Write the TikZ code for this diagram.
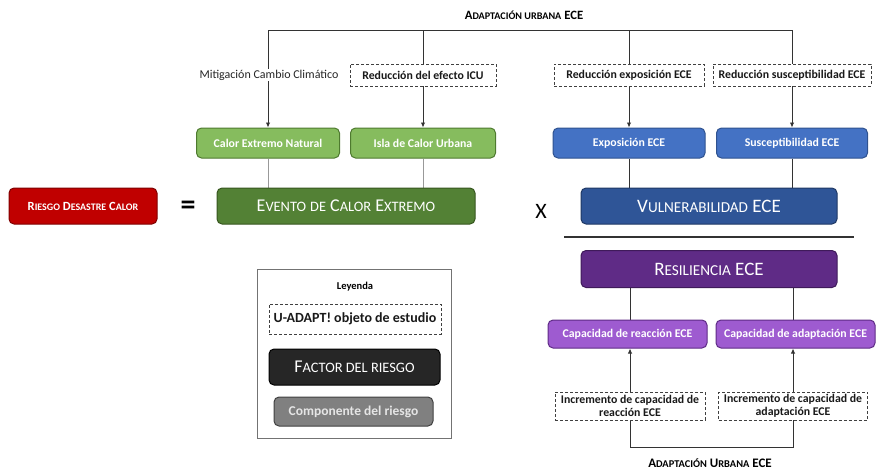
\documentclass[tikz,border=0pt]{standalone}
\usepackage{graphicx}
\usepackage{fontspec}
\setmainfont{Carlito}
\usetikzlibrary{arrows.meta,backgrounds}
\newcommand\sm[1]{\scalebox{0.8}{#1}}
\definecolor{cred}{HTML}{C00000}
\definecolor{credb}{HTML}{7F0000}
\definecolor{cdg}{HTML}{538135}
\definecolor{cdgb}{HTML}{37561F}
\definecolor{clg}{HTML}{86BC5E}
\definecolor{clgb}{HTML}{4E7A2F}
\definecolor{cbl}{HTML}{4472C4}
\definecolor{cblb}{HTML}{2F528F}
\definecolor{cdb}{HTML}{2F5597}
\definecolor{cdbb}{HTML}{1F3864}
\definecolor{cdp}{HTML}{5F2B86}
\definecolor{cdpb}{HTML}{3F1A5A}
\definecolor{clp}{HTML}{9E5BD0}
\definecolor{clpb}{HTML}{5F2B86}
\begin{document}
\begin{tikzpicture}[x=1pt,y=-1pt,
  lbl/.style={font=\fontsize{11.8}{13}\selectfont\bfseries},
  dbox/.style={draw=black!75, dash pattern=on 3pt off 2pt, line width=0.8pt, fill=white,
     minimum height=22pt, inner sep=1pt, lbl, text=black!90, align=center},
  rbox/.style={rounded corners=5pt, line width=1pt, inner sep=2pt, text=white, align=center},
  smallbox/.style={rbox, minimum height=30pt, lbl},
  bigbox/.style={rbox, minimum height=36pt, font=\fontsize{18}{20}\selectfont},
  cline/.style={draw=black!80, line width=0.9pt},
  gline/.style={draw=black!40, line width=0.8pt},
  arr/.style={-{Latex[length=5pt,width=4.5pt]}},
]
\useasboundingbox (0,0) rectangle (877,469);

% top label and coordinates
\node[font=\fontsize{12.7}{14}\selectfont\bfseries] (toplbl) at (524,15) {A\sm{DAPTACIÓN URBANA} ECE};
\coordinate (tl) at (268,30);
\coordinate (tr) at (792,30);

% top dashed boxes / text
\node[font=\fontsize{12}{14}\selectfont, fill=white, inner sep=1pt, text=black!85] (mit) at (269,75) {Mitigación Cambio Climático};
\node[dbox, minimum width=146pt] (r1) at (423,75) {Reducción del efecto ICU};
\node[dbox, minimum width=150pt] (r2) at (629,75) {Reducción exposición ECE};
\node[dbox, minimum width=158pt] (r3) at (792,75) {Reducción susceptibilidad ECE};

% component boxes
\node[smallbox, fill=clg, draw=clgb, minimum width=143pt] (g1) at (268,143) {Calor Extremo Natural};
\node[smallbox, fill=clg, draw=clgb, minimum width=145pt] (g2) at (423,143) {Isla de Calor Urbana};
\node[smallbox, fill=cbl, draw=cblb, minimum width=152pt] (b1) at (629,143) {Exposición ECE};
\node[smallbox, fill=cbl, draw=cblb, minimum width=151pt] (b2) at (792,143) {Susceptibilidad ECE};

% main row
\node[rbox, fill=cred, draw=credb, minimum width=148pt, minimum height=36pt,
      font=\fontsize{12.5}{15}\selectfont\bfseries] (riesgo) at (83,206)
      {R\sm{IESGO} D\sm{ESASTRE} C\sm{ALOR}};
\node[font=\fontsize{30}{32}\selectfont\bfseries, inner sep=0pt] (eq) at (188,208) {=};
\node[bigbox, fill=cdg, draw=cdgb, minimum width=258pt, font=\fontsize{18}{20}\selectfont] (ev) at (346,206)
      {E\sm{VENTO} \sm{DE} C\sm{ALOR} E\sm{XTREMO}};
\node[font=\fontsize{22}{24}\selectfont, inner sep=0pt] (x) at (541,211) {X};
\node[bigbox, fill=cdb, draw=cdbb, minimum width=256pt, font=\fontsize{19}{21}\selectfont] (vul) at (709,206) {V\sm{ULNERABILIDAD} ECE};
\coordinate (dl) at (564,237);
\coordinate (dr) at (854,237);
\node[bigbox, fill=cdp, draw=cdpb, minimum width=256pt, minimum height=37pt, font=\fontsize{19}{21}\selectfont] (res) at (709,269) {R\sm{ESILIENCIA} ECE};

% capacity boxes
\node[smallbox, fill=clp, draw=clpb, minimum width=159pt, minimum height=28pt] (c1) at (627.5,334) {Capacidad de reacción ECE};
\node[smallbox, fill=clp, draw=clpb, minimum width=159pt, minimum height=28pt] (c2) at (795.5,334) {Capacidad de adaptación ECE};

\node[dbox, minimum width=150pt, minimum height=28pt, font=\fontsize{11.8}{12.5}\selectfont\bfseries] (i1) at (630,406) {Incremento de capacidad de\\reacción ECE};
\node[dbox, minimum width=149pt, minimum height=28pt, font=\fontsize{11.8}{12.5}\selectfont\bfseries] (i2) at (793,406) {Incremento de capacidad de\\adaptación ECE};
\coordinate (bb) at (711,447);
\node[font=\fontsize{13}{15}\selectfont\bfseries] (botlbl) at (710,463) {A\sm{DAPTACIÓN} U\sm{RBANA} ECE};

% legend
\node[draw=black!55, line width=0.9pt, minimum width=194pt, minimum height=169pt, inner sep=0pt] (leg) at (354,353.5) {};
\node[font=\fontsize{10.5}{12}\selectfont\bfseries] (leyenda) at (355,287) {Leyenda};
\node[dbox, minimum width=172pt, minimum height=30pt, font=\fontsize{14}{16}\selectfont\bfseries] (lu) at (355,319) {U-ADAPT! objeto de estudio};
\node[rbox, fill=black!85, draw=black, minimum width=171pt, minimum height=36pt, font=\fontsize{18}{20}\selectfont] (lf) at (354.5,367) {F\sm{ACTOR DEL RIESGO}};
\node[rbox, fill=black!50, draw=black!75, minimum width=159pt, minimum height=29pt, text=black!10, font=\fontsize{13.5}{15}\selectfont\bfseries] (lc) at (353.5,411.5) {Componente del riesgo};

% connectors
\begin{scope}[on background layer]
\draw[cline] (tl) -- (tr);
\draw[cline, arr] (tl) -- (g1.north);
\draw[cline] (tl -| r1) -- (r1.north);
\draw[cline, arr] (r1.south) -- (g2.north);
\draw[cline] (tl -| r2) -- (r2.north);
\draw[cline, arr] (r2.south) -- (b1.north);
\draw[cline] (tr) -- (r3.north);
\draw[cline, arr] (r3.south) -- (b2.north);
\draw[gline] (g1.south) -- (g1.south |- ev.north);
\draw[gline] (g2.south) -- (g2.south |- ev.north);
\draw[cline] (b1.south) -- (b1.south |- vul.north);
\draw[cline] (b2.south) -- (b2.south |- vul.north);
\draw[draw=black!80, line width=2pt] (dl) -- (dr);
\draw[cline] (res.south -| i1) -- (c1.north -| i1);
\draw[cline] (res.south -| i2) -- (c2.north -| i2);
\draw[cline, arr] (i1.north) -- (c1.south -| i1);
\draw[cline, arr] (i2.north) -- (c2.south -| i2);
\draw[cline] (i1.south) -- (i1.south |- bb) -- (i2.south |- bb) -- (i2.south);
\end{scope}
\end{tikzpicture}
\end{document}
